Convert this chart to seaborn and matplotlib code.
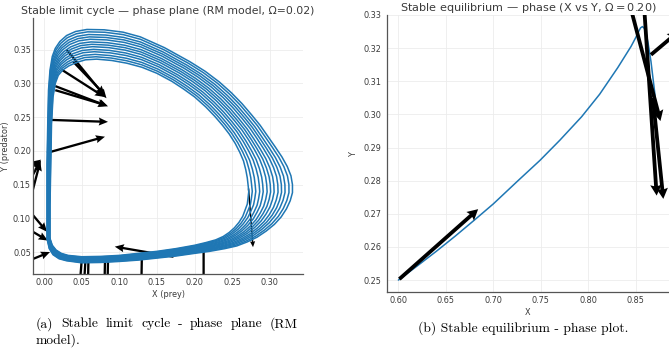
import numpy as np
import pandas as pd
import matplotlib
matplotlib.use("Agg")
import matplotlib.pyplot as plt
import seaborn as sns

#####################################################################
# Data

# (a) limit cycle: outermost and innermost loop, counterclockwise
outer_x = [0.004, 0.007, 0.012, 0.020, 0.030, 0.050, 0.075, 0.100, 0.125, 0.150,
           0.175, 0.200, 0.220, 0.240, 0.256, 0.270, 0.283, 0.295, 0.306, 0.315,
           0.322, 0.327, 0.330, 0.330, 0.328, 0.323, 0.316, 0.307, 0.297, 0.287,
           0.276, 0.263, 0.249, 0.233, 0.214, 0.194, 0.160, 0.128, 0.105, 0.080,
           0.057, 0.042, 0.030, 0.021, 0.015, 0.011, 0.008, 0.006, 0.005, 0.004,
           0.004]
outer_y = [0.070, 0.055, 0.046, 0.040, 0.037, 0.034, 0.0345, 0.036, 0.038, 0.041,
           0.044, 0.048, 0.051, 0.055, 0.059, 0.065, 0.072, 0.081, 0.091, 0.102,
           0.114, 0.126, 0.138, 0.150, 0.163, 0.177, 0.191, 0.206, 0.222, 0.238,
           0.253, 0.270, 0.286, 0.302, 0.318, 0.332, 0.353, 0.369, 0.376, 0.3795,
           0.380, 0.377, 0.371, 0.362, 0.352, 0.340, 0.320, 0.290, 0.240, 0.180,
           0.120]
inner_x = [0.008, 0.011, 0.016, 0.023, 0.032, 0.050, 0.075, 0.100, 0.125, 0.150,
           0.175, 0.200, 0.215, 0.228, 0.238, 0.246, 0.253, 0.259, 0.264, 0.267,
           0.270, 0.271, 0.272, 0.271, 0.270, 0.268, 0.265, 0.260, 0.254, 0.246,
           0.237, 0.227, 0.215, 0.200, 0.185, 0.170, 0.150, 0.130, 0.110, 0.090,
           0.070, 0.055, 0.043, 0.033, 0.025, 0.019, 0.015, 0.012, 0.010, 0.009,
           0.008]
inner_y = [0.070, 0.060, 0.053, 0.048, 0.045, 0.043, 0.0435, 0.045, 0.048, 0.051,
           0.055, 0.060, 0.064, 0.068, 0.073, 0.079, 0.086, 0.094, 0.103, 0.112,
           0.121, 0.130, 0.140, 0.150, 0.160, 0.172, 0.185, 0.198, 0.211, 0.225,
           0.238, 0.251, 0.265, 0.280, 0.292, 0.303, 0.315, 0.324, 0.330, 0.334,
           0.336, 0.335, 0.331, 0.326, 0.320, 0.312, 0.300, 0.280, 0.240, 0.180,
           0.120]
# position of each drawn loop between the inner (0) and outer (1) loop
loop_weights = [0.0, 0.08, 0.16, 0.25, 0.33, 0.42, 0.50, 0.58, 0.67, 0.75, 0.83, 0.92, 1.0]

# (a) quiver arrows: tail -> head
arr_a_x0 = [0.030, 0.039, 0.024, 0.015, 0.015, 0.006, 0.004,
            -0.022, -0.020, -0.025, -0.030, -0.030, -0.025,
            0.172, 0.050, 0.055, 0.059, 0.081, 0.085, 0.130, 0.212]
arr_a_y0 = [0.350, 0.332, 0.320, 0.296, 0.290, 0.246, 0.197,
            0.150, 0.120, 0.170, 0.125, 0.090, 0.035,
            0.043, 0.037, 0.037, 0.037, 0.037, 0.037, 0.045, 0.053]
arr_a_x1 = [0.083, 0.081, 0.080, 0.085, 0.084, 0.085, 0.081,
            -0.004, -0.005, -0.004, 0.004, 0.005, 0.008,
            0.094, 0.046, 0.052, 0.058, 0.080, 0.084, 0.129, 0.212]
arr_a_y1 = [0.278, 0.283, 0.280, 0.266, 0.267, 0.243, 0.221,
            0.186, 0.184, 0.187, 0.080, 0.067, 0.050,
            0.058, -0.020, -0.020, -0.020, -0.020, -0.020, -0.020, -0.020]
arr_b_down_x0 = [0.271]
arr_b_down_y0 = [0.145]
arr_b_down_x1 = [0.277]
arr_b_down_y1 = [0.058]

# (b) stable equilibrium trajectory
eq_x = [0.600, 0.620, 0.640, 0.660, 0.680, 0.700, 0.726, 0.749, 0.770, 0.793,
        0.812, 0.831, 0.845, 0.850, 0.853, 0.855, 0.857, 0.859, 0.861, 0.863,
        0.866, 0.870, 0.872]
eq_y = [0.2500, 0.2543, 0.2587, 0.2633, 0.2681, 0.2730, 0.2800, 0.2861, 0.2922, 0.2993,
        0.3061, 0.3141, 0.3205, 0.3232, 0.3250, 0.3261, 0.3265, 0.3260, 0.3243, 0.3215,
        0.3160, 0.3065, 0.3000]

# (b) quiver arrows: tail -> head
arr_c_x0 = [0.601, 0.842, 0.858, 0.868, 0.866]
arr_c_y0 = [0.2503, 0.335, 0.336, 0.305, 0.318]
arr_c_x1 = [0.684, 0.876, 0.872, 0.879, 0.895]
arr_c_y1 = [0.2714, 0.298, 0.2755, 0.2745, 0.325]

caption_a = ["(a) Stable limit cycle - phase plane (RM", "model)."]
caption_b = "(b) Stable equilibrium - phase plot."

#####################################################################
BLUE = "#1f77b4"
TXT = "#3a3a3a"

sns.set_theme(style="whitegrid")
plt.rcParams['font.family'] = ['DejaVu Sans']

fig = plt.figure(figsize=(6.69, 3.48), dpi=100)
W, H = 669, 348
ax1 = fig.add_axes([33 / W, 1 - 274 / H, 270 / W, 256 / H])
ax2 = fig.add_axes([387 / W, 1 - 292 / H, 282 / W, 277 / H])

# loops
rows = []
ox, oy = np.array(outer_x), np.array(outer_y)
ix, iy = np.array(inner_x), np.array(inner_y)
for k, w in enumerate(loop_weights):
    lx = ix + w * (ox - ix)
    ly = iy + w * (oy - iy)
    lx = np.append(lx, lx[0])
    ly = np.append(ly, ly[0])
    rows.append(pd.DataFrame({'x': lx, 'y': ly, 'loop': k}))
df_loops = pd.concat(rows, ignore_index=True)

ax1.quiver(arr_a_x0, arr_a_y0,
           np.subtract(arr_a_x1, arr_a_x0), np.subtract(arr_a_y1, arr_a_y0),
           angles='xy', scale_units='xy', scale=1, color='black',
           width=0.0085, headwidth=3.5, headlength=4, headaxislength=3.6, zorder=2)
ax1.quiver(arr_b_down_x0, arr_b_down_y0,
           np.subtract(arr_b_down_x1, arr_b_down_x0), np.subtract(arr_b_down_y1, arr_b_down_y0),
           angles='xy', scale_units='xy', scale=1, color='black',
           width=0.0055, headwidth=3.5, headlength=4, headaxislength=3.6, zorder=2)
sns.lineplot(data=df_loops, x='x', y='y', units='loop', estimator=None, sort=False,
             color=BLUE, lw=1.1, ax=ax1, legend=False, zorder=3)

sns.lineplot(x=eq_x, y=eq_y, estimator=None, sort=False, color=BLUE, lw=1.1, ax=ax2, zorder=2)
ax2.quiver(arr_c_x0, arr_c_y0,
           np.subtract(arr_c_x1, arr_c_x0), np.subtract(arr_c_y1, arr_c_y0),
           angles='xy', scale_units='xy', scale=1, color='black',
           width=0.0135, headwidth=3.0, headlength=2.8, headaxislength=2.5, zorder=3)

ax1.set_xlim(-0.0146, 0.344)
ax1.set_ylim(0.0174, 0.397)
ax1.set_xticks([0.00, 0.05, 0.10, 0.15, 0.20, 0.25, 0.30])
ax1.set_yticks([0.05, 0.10, 0.15, 0.20, 0.25, 0.30, 0.35])
ax1.set_xlabel("X (prey)", fontsize=5.9, color=TXT, labelpad=2)
ax1.set_ylabel("Y (predator)", fontsize=5.9, color=TXT, labelpad=2)
ax1.set_title("Stable limit cycle — phase plane (RM model, Ω=0.02)", fontsize=7.8, color=TXT, pad=3)

ax2.set_xlim(0.588, 0.885)
ax2.set_ylim(0.2464, 0.33)
ax2.set_xticks([0.60, 0.65, 0.70, 0.75, 0.80, 0.85])
ax2.set_yticks([0.25, 0.26, 0.27, 0.28, 0.29, 0.30, 0.31, 0.32, 0.33])
ax2.set_xlabel("X", fontsize=5.9, color=TXT, labelpad=2)
ax2.set_ylabel("Y", fontsize=5.9, color=TXT, labelpad=4)
ax2.set_title(r"Stable equilibrium — phase (X vs Y, $\Omega = 0.20$)", fontsize=8.1, color=TXT, pad=3)

for ax, pad in [(ax1, 1.5), (ax2, 4)]:
    ax.tick_params(axis='both', labelsize=5.9, labelcolor=TXT, length=0)
    ax.tick_params(axis='y', pad=pad)
    ax.tick_params(axis='x', pad=3)
    ax.grid(True, color='#ececec', lw=0.6)
    sns.despine(ax=ax)
    for s in ['left', 'bottom']:
        ax.spines[s].set_color('#555555')
        ax.spines[s].set_linewidth(0.9)

# captions (justified first line for (a))
renderer = fig.canvas.get_renderer()
cap_kw = dict(fontsize=9.8, family='cmr10', color='black', va='center')
words = caption_a[0].split()
texts = [fig.text(0, 1 - 324 / H, w_, **cap_kw) for w_ in words]
widths = [t.get_window_extent(renderer).width for t in texts]
gap = (298 - 36 - sum(widths)) / (len(words) - 1)
xpos = 36
for t, wd in zip(texts, widths):
    t.set_x(xpos / W)
    xpos += wd + gap
fig.text(36 / W, 1 - 340 / H, caption_a[1], **cap_kw)
fig.text(523 / W, 1 - 328 / H, caption_b, ha='center', **cap_kw)

fig.savefig("out.png", dpi=100)
